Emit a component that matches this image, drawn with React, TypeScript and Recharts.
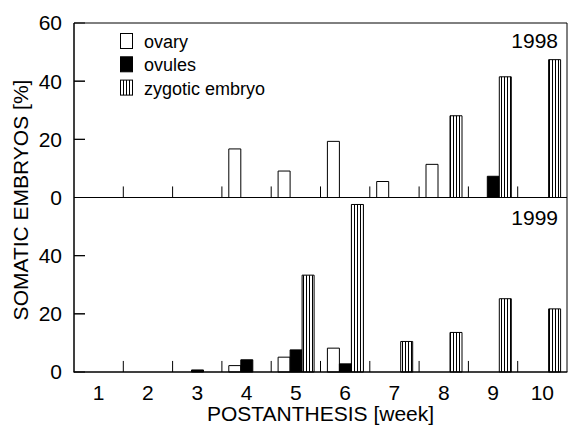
import React from 'react';
import { BarChart, Bar, XAxis, YAxis, ReferenceLine } from 'recharts';

const weeks = ['1', '2', '3', '4', '5', '6', '7', '8', '9', '10'];

const ovary1998 = [0, 0, 0, 16.7, 9.1, 19.3, 5.5, 11.4, 0, 0];
const ovules1998 = [0, 0, 0, 0, 0, 0, 0, 0, 7.3, 0];
const zygotic1998 = [0, 0, 0, 0, 0, 0, 0, 28.1, 41.5, 47.4];

const ovary1999 = [0, 0, 0, 2.2, 5.1, 8.2, 0, 0, 0, 0];
const ovules1999 = [0, 0, 0.7, 4.2, 7.6, 2.8, 0, 0, 0, 0];
const zygotic1999 = [0, 0, 0, 0, 33.3, 57.6, 10.5, 13.6, 25.2, 21.7];

// each panel spans 0..60 %; the 1998 panel sits on top of the 1999 panel
const panelMax = 60;
const yTicks = [0, 20, 40, 60, 80, 100, 120];
const yInnerTicks = [20, 40, 80, 100];
// category boundaries are drawn at the start of these weeks
const boundaryWeeks = ['2', '3', '4', '5', '6', '7', '8', '9', '10'];
const boundaryTickLength = 3.8;
const yTickLen = 11;

const legendItems = [
  { name: 'ovary', fill: '#fff' },
  { name: 'ovules', fill: '#000' },
  { name: 'zygotic embryo', fill: 'url(#stripes)' },
];

const data = weeks.map((w, i) => ({
  week: w,
  ov99: ovary1999[i],
  ovGap: panelMax - ovary1999[i],
  ov98: ovary1998[i],
  ol99: ovules1999[i],
  olGap: panelMax - ovules1999[i],
  ol98: ovules1998[i],
  zy99: zygotic1999[i],
  zyGap: panelMax - zygotic1999[i],
  zy98: zygotic1998[i],
}));

const W = 568;
const H = 427;
const MARGIN = { top: 23, right: 1, bottom: 25, left: 0 };
const Y_AXIS_W = 74;
const X_AXIS_H = 30;
const plotLeft = MARGIN.left + Y_AXIS_W;
const plotRight = W - MARGIN.right;
const plotTop = MARGIN.top;
const plotBottom = H - MARGIN.bottom - X_AXIS_H;
const yToPx = (v: number) => plotBottom - (v / (2 * panelMax)) * (plotBottom - plotTop);

const FONT = '"Liberation Sans", Arial, sans-serif';
const tickStyle = { fill: '#000', fontSize: 21, fontFamily: FONT };

export default function App() {
  return (
    <div style={{ position: 'absolute', left: 0, top: 0, width: W, height: H, fontFamily: FONT }}>
      <div style={{ position: 'absolute', left: 0, top: 0 }}>
        <BarChart width={W} height={H} data={data} margin={MARGIN} barCategoryGap="14%" barGap={0}>
          <XAxis
            dataKey="week"
            stroke="#000"
            tickLine={false}
            tickSize={0}
            tickMargin={13}
            tick={tickStyle}
            interval={0}
            height={X_AXIS_H}
            label={{ value: 'POSTANTHESIS [week]', position: 'bottom', offset: 4, fill: '#000', fontSize: 21, fontFamily: FONT }}
          />
          <YAxis
            domain={[0, 2 * panelMax]}
            ticks={yTicks}
            interval={0}
            width={Y_AXIS_W}
            stroke="#000"
            tickSize={-11}
            tickMargin={23}
            tick={tickStyle}
            tickFormatter={(v: number) => String(v >= panelMax ? v - panelMax : v)}
          />
          <Bar stackId="ov" dataKey="ov99" fill="#fff" stroke="#000" isAnimationActive={false} />
          <Bar stackId="ov" dataKey="ovGap" fill="none" stroke="none" isAnimationActive={false} />
          <Bar stackId="ov" dataKey="ov98" fill="#fff" stroke="#000" isAnimationActive={false} />
          <Bar stackId="ol" dataKey="ol99" fill="#000" stroke="#000" isAnimationActive={false} />
          <Bar stackId="ol" dataKey="olGap" fill="none" stroke="none" isAnimationActive={false} />
          <Bar stackId="ol" dataKey="ol98" fill="#000" stroke="#000" isAnimationActive={false} />
          <Bar stackId="zy" dataKey="zy99" fill="url(#stripes)" stroke="#000" isAnimationActive={false} />
          <Bar stackId="zy" dataKey="zyGap" fill="none" stroke="none" isAnimationActive={false} />
          <Bar stackId="zy" dataKey="zy98" fill="url(#stripes)" stroke="#000" isAnimationActive={false} />
          {boundaryWeeks.map((w) => (
            <ReferenceLine key={'a' + w} position="start" segment={[{ x: w, y: 0 }, { x: w, y: boundaryTickLength }]} stroke="#000" />
          ))}
          {boundaryWeeks.map((w) => (
            <ReferenceLine key={'b' + w} position="start" segment={[{ x: w, y: panelMax }, { x: w, y: panelMax + boundaryTickLength }]} stroke="#000" />
          ))}
          <ReferenceLine y={panelMax} stroke="#000" />
          <ReferenceLine y={2 * panelMax} stroke="#000" />
          <ReferenceLine x="10" position="end" stroke="#000" />
        </BarChart>
      </div>
      <svg width={W} height={H} style={{ position: 'absolute', left: 0, top: 0, pointerEvents: 'none' }}>
        <defs>
          <pattern id="stripes" patternUnits="userSpaceOnUse" width="3" height="3">
            <rect x="0" y="0" width="3" height="3" fill="#fff" />
            <line x1="0.5" y1="0" x2="0.5" y2="3" stroke="#000" strokeWidth="1" />
          </pattern>
        </defs>
        {/* axis frame: left and bottom, drawn as thin filled rects */}
        <rect x={plotLeft - 0.5} y={plotTop} width={1} height={plotBottom - plotTop + 0.5} fill="#000" />
        <rect x={plotLeft - 0.5} y={plotBottom - 0.5} width={plotRight - plotLeft + 1} height={1} fill="#000" />
        {yInnerTicks.map((t) => (
          <rect key={t} x={plotLeft} y={yToPx(t) - 0.5} width={yTickLen} height={1} fill="#000" />
        ))}
        {legendItems.map((it, i) => (
          <g key={it.name}>
            <rect x={120.5} y={33.5 + i * 23.3} width={12} height={15} fill={it.fill} stroke="#000" strokeWidth={1} />
            <text x={144} y={48 + i * 23.3} fontSize={18} fontFamily={FONT} fill="#000">
              {it.name}
            </text>
          </g>
        ))}
        <text x={558} y={48} textAnchor="end" fontSize={21} fontFamily={FONT} fill="#000">1998</text>
        <text x={558} y={225} textAnchor="end" fontSize={21} fontFamily={FONT} fill="#000">1999</text>
        <text transform="translate(28,200) rotate(-90)" textAnchor="middle" fontSize={21} fontFamily={FONT} fill="#000">
          SOMATIC EMBRYOS [%]
        </text>
      </svg>
    </div>
  );
}
